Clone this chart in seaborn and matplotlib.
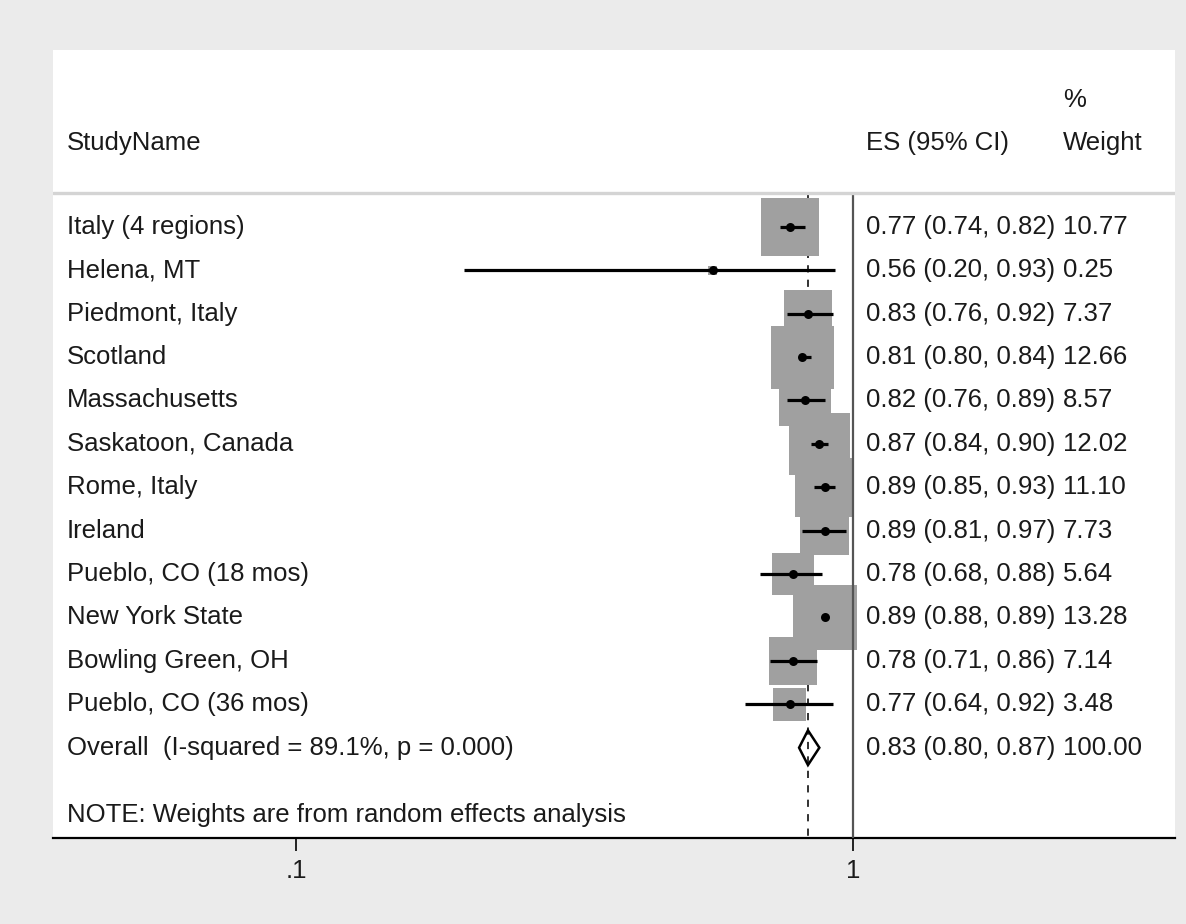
import matplotlib
matplotlib.use("Agg")
import matplotlib.pyplot as plt
import matplotlib.transforms as mtransforms
import numpy as np
import pandas as pd
import seaborn as sns

# study-level estimates
STUDIES = [
    "Italy (4 regions)",
    "Helena, MT",
    "Piedmont, Italy",
    "Scotland",
    "Massachusetts",
    "Saskatoon, Canada",
    "Rome, Italy",
    "Ireland",
    "Pueblo, CO (18 mos)",
    "New York State",
    "Bowling Green, OH",
    "Pueblo, CO (36 mos)",
]
ES = [0.77, 0.56, 0.83, 0.81, 0.82, 0.87, 0.89, 0.89, 0.78, 0.89, 0.78, 0.77]
LCI = [0.74, 0.20, 0.76, 0.80, 0.76, 0.84, 0.85, 0.81, 0.68, 0.88, 0.71, 0.64]
UCI = [0.82, 0.93, 0.92, 0.84, 0.89, 0.90, 0.93, 0.97, 0.88, 0.89, 0.86, 0.92]
WEIGHT = [10.77, 0.25, 7.37, 12.66, 8.57, 12.02, 11.10, 7.73, 5.64, 13.28, 7.14, 3.48]

OVERALL_LABEL = "Overall  (I-squared = 89.1%, p = 0.000)"
OVERALL_ES, OVERALL_LCI, OVERALL_UCI = 0.83, 0.80, 0.87
NOTE = "NOTE: Weights are from random effects analysis"

XTICKS = [0.1, 1]
XTICK_LABELS = [".1", "1"]

BG = "#ebebeb"
BOX = "#a0a0a0"
INK = "#1a1a1a"
FS = 18.5


def main():
    sns.set_theme(style="white")
    plt.rcParams["font.family"] = ["Liberation Sans", "DejaVu Sans"]
    plt.rcParams["text.color"] = INK

    df = pd.DataFrame({
        "study": STUDIES, "es": ES, "lci": LCI, "uci": UCI, "weight": WEIGHT,
    })
    df["row"] = np.arange(len(df))
    overall_row = len(df)
    note_row = overall_row + 1.55

    fig = plt.figure(figsize=(11.86, 9.24), dpi=100, facecolor=BG)
    ax = fig.add_axes([0.0447, 0.0931, 0.946, 0.853])
    ax.set_facecolor("white")
    ax.set_xscale("log")
    ax.set_xlim(0.0366, 3.785)
    ax.set_ylim(14.08, -4.08)

    top = -0.78
    bottom = 14.08
    # reference lines: overall estimate (dashed) and null effect at 1
    ax.vlines(OVERALL_ES, top, bottom, colors="#222222", linestyles=(0, (4, 4)),
              linewidth=1.3, zorder=1)
    ax.vlines(1, top, bottom, colors="#555555", linewidth=1.6, zorder=3)

    # weight boxes (area proportional to weight)
    sns.scatterplot(data=df, x="es", y="row", size="weight", sizes=(0, 16200),
                    size_norm=(0, 100), marker="s", color=BOX, edgecolor="none",
                    linewidth=0, legend=False, ax=ax, zorder=2)
    ax.hlines(df["row"], df["lci"], df["uci"], colors="black", linewidth=2.3, zorder=4)
    sns.scatterplot(data=df, x="es", y="row", s=42, color="black", edgecolor="black",
                    linewidth=0, legend=False, ax=ax, zorder=5)

    # overall diamond
    h = 0.4
    ax.fill([OVERALL_LCI, OVERALL_ES, OVERALL_UCI, OVERALL_ES],
            [overall_row, overall_row - h, overall_row, overall_row + h],
            facecolor="none", edgecolor="black", linewidth=1.8, zorder=6)

    # header separator
    ax.axhline(top, color="#d4d4d4", linewidth=2.4, zorder=6)

    # text columns
    tr = mtransforms.blended_transform_factory(ax.transAxes, ax.transData)
    x_name, x_es, x_w = 0.0125, 0.7246, 0.9002
    ax.text(x_name, -1.94, "StudyName", transform=tr, fontsize=FS, va="center")
    ax.text(x_es, -1.94, "ES (95% CI)", transform=tr, fontsize=FS, va="center")
    ax.text(x_w, -2.93, "%", transform=tr, fontsize=FS, va="center")
    ax.text(x_w, -1.94, "Weight", transform=tr, fontsize=FS, va="center")
    for r in df.itertuples():
        ax.text(x_name, r.row, r.study, transform=tr, fontsize=FS, va="center")
        ax.text(x_es, r.row, f"{r.es:.2f} ({r.lci:.2f}, {r.uci:.2f})",
                transform=tr, fontsize=FS, va="center")
        ax.text(x_w, r.row, f"{r.weight:.2f}", transform=tr, fontsize=FS, va="center")
    ax.text(x_name, overall_row, OVERALL_LABEL, transform=tr, fontsize=FS, va="center")
    ax.text(x_es, overall_row, f"{OVERALL_ES:.2f} ({OVERALL_LCI:.2f}, {OVERALL_UCI:.2f})",
            transform=tr, fontsize=FS, va="center")
    ax.text(x_w, overall_row, "100.00", transform=tr, fontsize=FS, va="center")
    ax.text(x_name, note_row, NOTE, transform=tr, fontsize=FS, va="center")

    # axes styling
    for side in ["top", "left", "right"]:
        ax.spines[side].set_visible(False)
    ax.spines["bottom"].set_color("black")
    ax.spines["bottom"].set_linewidth(1.6)
    ax.set_xticks(XTICKS)
    ax.set_xticklabels(XTICK_LABELS, fontsize=FS, color=INK)
    ax.xaxis.set_minor_locator(matplotlib.ticker.NullLocator())
    ax.tick_params(axis="x", direction="out", length=9, width=1.2, color="black",
                   pad=6, bottom=True)
    ax.set_yticks([])
    ax.set_xlabel("")
    ax.set_ylabel("")

    fig.savefig("out.png", dpi=100, facecolor=BG)
    plt.close("all")


if __name__ == "__main__":
    main()
